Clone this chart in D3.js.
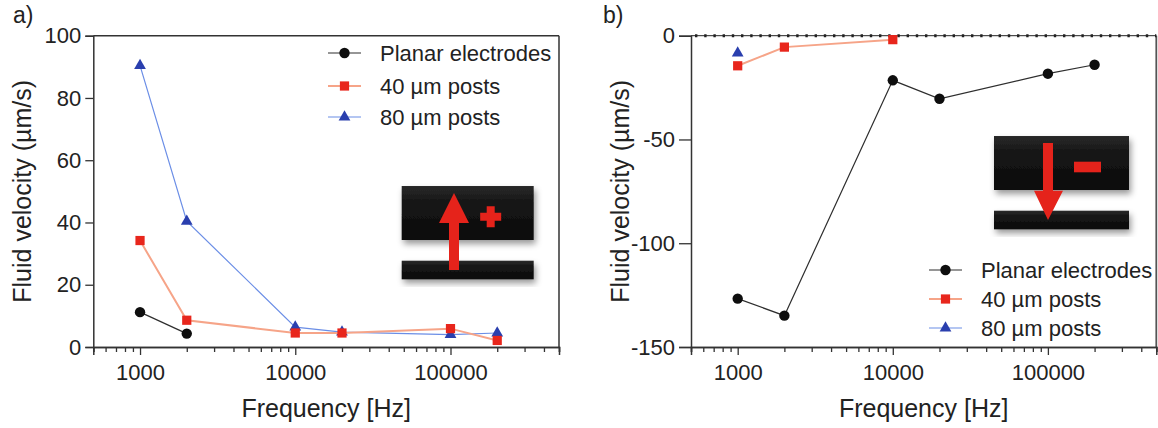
<!DOCTYPE html>
<html>
<head>
<meta charset="utf-8">
<script src="https://cdn.jsdelivr.net/npm/d3@7"></script>
<style>
  body { margin: 0; background: #fff; }
  svg { display: block; }
  text { font-family: "Liberation Sans", Arial, Helvetica, sans-serif; fill: #222; }
</style>
</head>
<body>
<svg id="chart" width="1158" height="428"></svg>
<script>
// ---- data ----
const freqs = [1000, 2000, 10000, 20000, 100000, 200000];
const seriesNames = ["Planar electrodes", "40 \u00b5m posts", "80 \u00b5m posts"];

// a) positive electrode on top
const planarFreqA = [1000, 2000];
const planarA = [11.2, 4.3];
const posts40A = [34.2, 8.6, 4.5, 4.5, 5.9, 2.1];
const posts80A = [90.4, 40.4, 6.4, 4.8, 4.0, 4.5];

// b) negative electrode on top
const planarB = [-126.7, -134.9, -21.5, -30.4, -18.3, -14.0];
const posts40FreqB = [1000, 2000, 10000];
const posts40B = [-14.5, -5.5, -1.9];
const posts80FreqB = [1000];
const posts80B = [-8.4];

const xTicks = [1000, 10000, 100000];
const yTicksA = [0, 20, 40, 60, 80, 100];
const yTicksB = [0, -50, -100, -150];

// ---- styles ----
const styles = [
  { line: "#2e2e2e", fill: "#0e0e0e", width: 1.2, symbol: d3.symbolCircle, size: 85 },
  { line: "#f6a488", fill: "#e8261c", width: 2, symbol: d3.symbolSquare, size: 85 },
  { line: "#6b8ee6", fill: "#2a3fae", width: 1.2, symbol: d3.symbolTriangle, size: 60 }
];
const axisColor = "#333";
const frameColor = "#555";
const red = "#e5231b";

const svg = d3.select("#chart");
svg.append("rect").attr("width", 1158).attr("height", 428).attr("fill", "#fff");

const defs = svg.append("defs");
const grad = defs.append("linearGradient").attr("id", "plate").attr("x1", 0).attr("y1", 0).attr("x2", 0).attr("y2", 1);
grad.append("stop").attr("offset", "0%").attr("stop-color", "#2a2a2a");
grad.append("stop").attr("offset", "30%").attr("stop-color", "#161616");
grad.append("stop").attr("offset", "100%").attr("stop-color", "#0b0b0b");
const shadow = defs.append("filter").attr("id", "shadow")
  .attr("x", "-20%").attr("y", "-30%").attr("width", "140%").attr("height", "170%");
shadow.append("feDropShadow").attr("dx", 2).attr("dy", 4).attr("stdDeviation", 3)
  .attr("flood-color", "#000").attr("flood-opacity", 0.4);

const plotTop = 35.7, plotBottom = 347;

function minorTicks(lo, hi) {
  const out = [];
  for (let d = 100; d <= 100000; d *= 10) {
    for (let k = 2; k <= 9; k++) {
      const v = k * d;
      if (v >= lo && v <= hi && !xTicks.includes(v)) out.push(v);
    }
  }
  return out;
}

function series(g, x, y, fx, vals, st) {
  const pts = fx.map((f, i) => [f, vals[i]]);
  g.append("path")
    .datum(pts)
    .attr("fill", "none")
    .attr("stroke", st.line)
    .attr("stroke-width", st.width)
    .attr("d", d3.line().x(d => x(d[0])).y(d => y(d[1])));
  g.selectAll(null).data(pts).enter().append("path")
    .attr("transform", d => `translate(${x(d[0])},${y(d[1])})`)
    .attr("d", d3.symbol().type(st.symbol).size(st.size))
    .attr("fill", st.fill);
}

function legend(g, x0, rows) {
  rows.forEach((ry, i) => {
    const st = styles[i];
    g.append("line").attr("x1", x0).attr("x2", x0 + 33).attr("y1", ry).attr("y2", ry)
      .attr("stroke", st.line).attr("stroke-width", st.width);
    g.append("path").attr("transform", `translate(${x0 + 16.5},${ry})`)
      .attr("d", d3.symbol().type(st.symbol).size(st.size)).attr("fill", st.fill);
    g.append("text").attr("x", x0 + 52).attr("y", ry).attr("dy", "0.36em")
      .attr("font-size", 22).text(seriesNames[i]);
  });
}

// schematic of the two electrodes with the flow direction
function inset(g, x0, y0, w, up) {
  const ig = g.append("g").attr("transform", `translate(${x0},${y0})`);
  ig.append("rect").attr("x", 0).attr("y", 0).attr("width", w).attr("height", 54)
    .attr("fill", "url(#plate)").attr("filter", "url(#shadow)");
  ig.append("rect").attr("x", 0).attr("y", 74.7).attr("width", w).attr("height", 18.6)
    .attr("fill", "url(#plate)").attr("filter", "url(#shadow)");
  if (up) {
    ig.append("path").attr("fill", red)
      .attr("d", "M47.3,84 L47.3,37 L37.3,37 L52.3,7 L67.3,37 L57.3,37 L57.3,84 Z");
    const cx = 89, cy = 30.7, a = 10.5, t = 4;
    ig.append("path").attr("fill", red)
      .attr("d", `M${cx - t},${cy - a} h${2 * t} v${a - t} h${a - t} v${2 * t} h${-(a - t)} v${a - t} h${-2 * t} v${-(a - t)} h${-(a - t)} v${-2 * t} h${a - t} Z`);
  } else {
    ig.append("path").attr("fill", red)
      .attr("d", "M49,7 L59,7 L59,54.7 L69,54.7 L54,84 L40,54.7 L49,54.7 Z");
    ig.append("rect").attr("fill", red).attr("x", 80).attr("y", 25.7).attr("width", 27).attr("height", 10.6);
  }
}

function panel(cfg) {
  const g = svg.append("g");
  const x = d3.scaleLog().domain([500, 500000]).range([cfg.left, cfg.right]);
  const y = d3.scaleLinear().domain(cfg.yDomain).range([plotBottom, plotTop]);

  // frame on the right
  g.append("line").attr("x1", cfg.right).attr("x2", cfg.right).attr("y1", plotTop).attr("y2", plotBottom)
    .attr("stroke", frameColor).attr("stroke-width", 1.8);
  if (cfg.zeroLine) {
    g.append("line").attr("x1", cfg.left).attr("x2", cfg.right).attr("y1", y(0)).attr("y2", y(0))
      .attr("stroke", "#222").attr("stroke-width", 1);
    g.append("line").attr("x1", cfg.left + 4).attr("x2", cfg.right).attr("y1", y(0)).attr("y2", y(0))
      .attr("stroke", "#222").attr("stroke-width", 3).attr("stroke-dasharray", "2.4 6.8");
  } else {
    g.append("line").attr("x1", cfg.left).attr("x2", cfg.right).attr("y1", plotTop).attr("y2", plotTop)
      .attr("stroke", axisColor).attr("stroke-width", 1.5);
  }

  // x axis: major and minor log ticks
  const xMinor = g.append("g").attr("transform", `translate(0,${plotBottom})`)
    .call(d3.axisBottom(x).tickValues(minorTicks(500, 500000)).tickSize(5).tickFormat(""));
  const xMajor = g.append("g").attr("transform", `translate(0,${plotBottom})`)
    .call(d3.axisBottom(x).tickValues(xTicks).tickSize(8).tickFormat(d3.format("d")));
  [xMinor, xMajor].forEach(ax => {
    ax.select(".domain").attr("stroke", axisColor).attr("stroke-width", 1.5);
    ax.selectAll(".tick line").attr("stroke", axisColor).attr("stroke-width", 1.3);
  });
  xMajor.selectAll(".tick text").attr("font-size", 22).attr("fill", "#222")
    .attr("font-family", null).attr("y", 33).attr("dy", 0);

  // y axis
  const yAx = g.append("g").attr("transform", `translate(${cfg.left},0)`)
    .call(d3.axisLeft(y).tickValues(cfg.yTicks).tickSize(cfg.yTickSize).tickPadding(4).tickFormat(d3.format("d")));
  yAx.select(".domain").attr("stroke", axisColor).attr("stroke-width", 1.5);
  yAx.selectAll(".tick line").attr("stroke", axisColor).attr("stroke-width", 1.3);
  yAx.selectAll(".tick text").attr("font-size", 22).attr("fill", "#222").attr("font-family", null)
    .text(d => d < 0 ? "-" + Math.abs(d) : d);

  // titles
  g.append("text").attr("transform", `translate(${cfg.left - 62},${(plotTop + plotBottom) / 2}) rotate(-90)`)
    .attr("text-anchor", "middle").attr("font-size", 25).text("Fluid velocity (\u00b5m/s)");
  g.append("text").attr("x", (cfg.left + cfg.right) / 2).attr("y", 417)
    .attr("text-anchor", "middle").attr("font-size", 25).text("Frequency [Hz]");
  g.append("text").attr("x", cfg.labelX).attr("y", 23).attr("font-size", 23).text(cfg.label);

  inset(g, cfg.inset[0], cfg.inset[1], cfg.inset[2], cfg.up);

  cfg.series.forEach(s => series(g, x, y, s.f, s.v, styles[s.k]));
  legend(g, cfg.legendX, cfg.legendRows);
}

panel({
  label: "a)", labelX: 13,
  left: 93.3, right: 559, yDomain: [0, 100], yTicks: yTicksA, yTickSize: 8,
  series: [
    { k: 2, f: freqs, v: posts80A },
    { k: 1, f: freqs, v: posts40A },
    { k: 0, f: planarFreqA, v: planarA }
  ],
  legendX: 328, legendRows: [53, 86, 117],
  inset: [401.7, 186, 132], up: true
});

panel({
  label: "b)", labelX: 603,
  left: 691, right: 1156.3, yDomain: [-150, 0], yTicks: yTicksB, yTickSize: 12, zeroLine: true,
  series: [
    { k: 0, f: freqs, v: planarB },
    { k: 2, f: posts80FreqB, v: posts80B },
    { k: 1, f: posts40FreqB, v: posts40B }
  ],
  legendX: 929, legendRows: [270, 299, 328],
  inset: [994, 136, 135], up: false
});
</script>
</body>
</html>
